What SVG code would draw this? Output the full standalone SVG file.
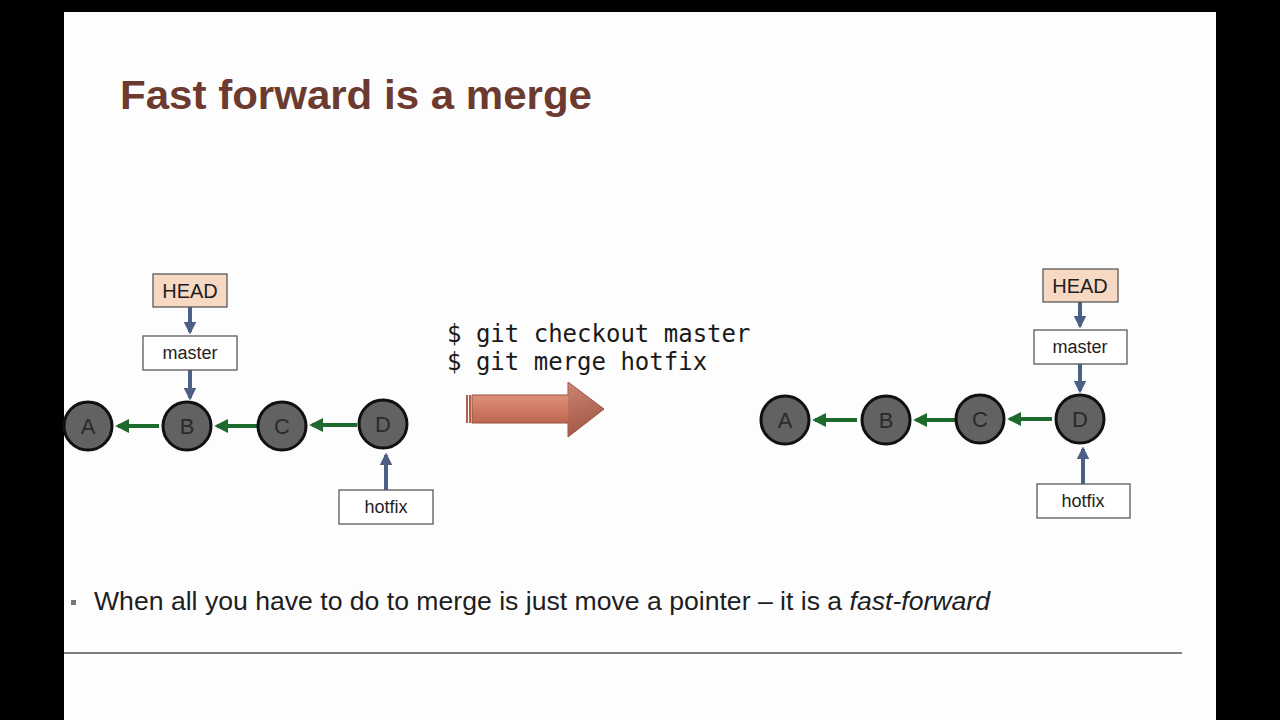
<svg xmlns="http://www.w3.org/2000/svg" width="1280" height="720" viewBox="0 0 1280 720">
<defs>
<style>
.lbl{font-family:"Liberation Sans",Arial,sans-serif;fill:#1e1e1e;text-anchor:middle}
.box{fill:#ffffff;stroke:#5a5a5a;stroke-width:1.3}
.head{fill:#f7d9c3;stroke:#5a5a5a;stroke-width:1.3}
.commit{fill:#626262;stroke:#111;stroke-width:3}
.ctext{font-family:"Liberation Sans",Arial,sans-serif;font-size:22px;fill:#2a2a2a;text-anchor:middle}
.ptr{stroke:#4b6084;stroke-width:4;fill:none}
.par{stroke:#1d6a2c;stroke-width:4;fill:none}
.code{font-family:"DejaVu Sans Mono","Liberation Mono",monospace;font-size:24px;fill:#1a1a1a}
</style>
<marker id="mb" viewBox="0 0 10 10" refX="8" refY="5" markerWidth="3.2" markerHeight="3.2" orient="auto" markerUnits="strokeWidth">
<path d="M0,0 L10,5 L0,10 z" fill="#4b6084"/>
</marker>
<marker id="mg" viewBox="0 0 10 10" refX="8" refY="5" markerWidth="3.5" markerHeight="3.5" orient="auto" markerUnits="strokeWidth">
<path d="M0,0 L10,5 L0,10 z" fill="#1d6a2c"/>
</marker>
<linearGradient id="bodyG" x1="0" y1="0" x2="0" y2="1">
<stop offset="0" stop-color="#e9a893"/>
<stop offset="0.5" stop-color="#cf7a62"/>
<stop offset="1" stop-color="#a8533e"/>
</linearGradient>
<linearGradient id="headG" x1="0" y1="0" x2="1" y2="1">
<stop offset="0" stop-color="#b87060"/>
<stop offset="1" stop-color="#8e5044"/>
</linearGradient>
</defs>
<rect x="0" y="0" width="1280" height="720" fill="#000"/>
<rect x="64" y="12" width="1152" height="708" fill="#fdfdfd"/>

<text id="title" x="120" y="109" font-family="Liberation Sans,Arial,sans-serif" font-weight="bold" font-size="41" fill="#6c3a2f" textLength="472" lengthAdjust="spacingAndGlyphs">Fast forward is a merge</text>

<g id="connectors">
<line class="ptr" x1="190" y1="307" x2="190" y2="332" marker-end="url(#mb)"/>
<line class="ptr" x1="190" y1="370" x2="190" y2="398" marker-end="url(#mb)"/>
<line class="ptr" x1="386" y1="490" x2="386" y2="455" marker-end="url(#mb)"/>
<line class="par" x1="159" y1="426" x2="118" y2="426" marker-end="url(#mg)"/>
<line class="par" x1="257" y1="426" x2="217" y2="426" marker-end="url(#mg)"/>
<line class="par" x1="357" y1="425" x2="312" y2="425" marker-end="url(#mg)"/>
<line class="ptr" x1="1080" y1="302" x2="1080" y2="326" marker-end="url(#mb)"/>
<line class="ptr" x1="1080" y1="364" x2="1080" y2="391" marker-end="url(#mb)"/>
<line class="ptr" x1="1083" y1="484" x2="1083" y2="449" marker-end="url(#mb)"/>
<line class="par" x1="857" y1="420" x2="815" y2="420" marker-end="url(#mg)"/>
<line class="par" x1="955" y1="420" x2="916" y2="420" marker-end="url(#mg)"/>
<line class="par" x1="1052" y1="419" x2="1010" y2="419" marker-end="url(#mg)"/>
</g>

<g id="L-HEAD"><rect class="head" x="153" y="274" width="74" height="33"/><text class="lbl" x="190" y="298" font-size="20">HEAD</text></g>
<g id="L-master"><rect class="box" x="143" y="336" width="94" height="34"/><text class="lbl" x="190" y="359" font-size="18">master</text></g>
<g id="L-hotfix"><rect class="box" x="339" y="490" width="94" height="34"/><text class="lbl" x="386" y="513" font-size="18">hotfix</text></g>
<g id="L-A"><circle class="commit" cx="88" cy="426" r="24"/><text class="ctext" x="88" y="434">A</text></g>
<g id="L-B"><circle class="commit" cx="187" cy="426" r="24"/><text class="ctext" x="187" y="434">B</text></g>
<g id="L-C"><circle class="commit" cx="282" cy="426" r="24"/><text class="ctext" x="282" y="434">C</text></g>
<g id="L-D"><circle class="commit" cx="383" cy="424" r="24"/><text class="ctext" x="383" y="432">D</text></g>

<g id="commands">
<text class="code" x="447" y="342">$ git checkout master</text>
<text class="code" x="447" y="370">$ git merge hotfix</text>
</g>

<g id="bigArrow">
<rect x="466" y="395" width="2" height="28" fill="#b0604a"/>
<rect x="469" y="395" width="2" height="28" fill="#b0604a"/>
<path d="M472,395 L568,395 L568,382 L604,409 L568,437 L568,423 L472,423 Z" fill="url(#bodyG)" stroke="#9a5040" stroke-width="1"/>
<path d="M568,382 L604,409 L568,437 Z" fill="url(#headG)" opacity="0.6"/>
</g>

<g id="R-HEAD"><rect class="head" x="1043" y="269" width="75" height="33"/><text class="lbl" x="1080" y="293" font-size="20">HEAD</text></g>
<g id="R-master"><rect class="box" x="1034" y="330" width="93" height="34"/><text class="lbl" x="1080" y="353" font-size="18">master</text></g>
<g id="R-hotfix"><rect class="box" x="1037" y="484" width="93" height="34"/><text class="lbl" x="1083" y="507" font-size="18">hotfix</text></g>
<g id="R-A"><circle class="commit" cx="785" cy="420" r="24"/><text class="ctext" x="785" y="428">A</text></g>
<g id="R-B"><circle class="commit" cx="886" cy="420" r="24"/><text class="ctext" x="886" y="428">B</text></g>
<g id="R-C"><circle class="commit" cx="980" cy="419" r="24"/><text class="ctext" x="980" y="427">C</text></g>
<g id="R-D"><circle class="commit" cx="1080" cy="419" r="24"/><text class="ctext" x="1080" y="427">D</text></g>

<g id="bullet">
<rect x="71" y="600" width="5" height="5" fill="#777"/>
<text x="94" y="610" font-family="Liberation Sans,Arial,sans-serif" font-size="25" fill="#1e1e1e" textLength="896" lengthAdjust="spacingAndGlyphs">When all you have to do to merge is just move a pointer – it is a <tspan font-style="italic">fast-forward</tspan></text>
</g>
<line x1="64" y1="653" x2="1182" y2="653" stroke="#555" stroke-width="1.5"/>
</svg>
